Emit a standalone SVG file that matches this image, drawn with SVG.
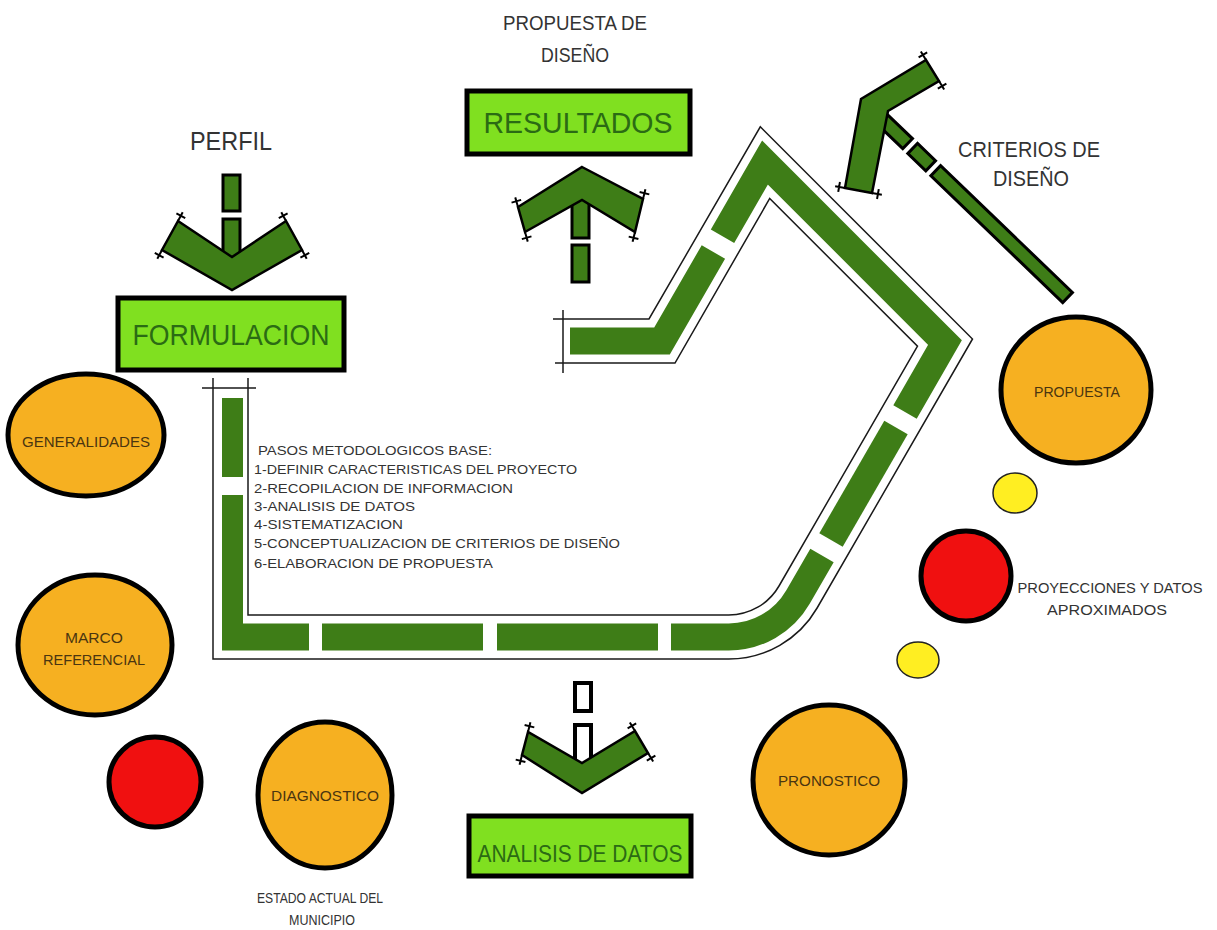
<svg xmlns="http://www.w3.org/2000/svg" xmlns:xlink="http://www.w3.org/1999/xlink" width="1217" height="930" viewBox="0 0 1217 930">
<style>
text{font-family:"Liberation Sans",Arial,sans-serif;}
.band{fill:none;stroke:#3e7d17;stroke-width:27;stroke-linecap:butt;stroke-linejoin:miter;}
.bandf{fill:#3e7d17;}
.rail{fill:none;stroke:#1a1a1a;stroke-width:1.5;}
.chev{fill:#3e7d17;stroke:#000;stroke-width:2.5;stroke-linejoin:miter;}
.bar{fill:#3e7d17;stroke:#000;stroke-width:3;}
.wbar{fill:#fff;stroke:#000;stroke-width:4;}
.box{fill:#80e020;stroke:#000;stroke-width:5;}
.boxt{fill:#2b6b14;text-anchor:middle;}
.lbl{fill:#333;text-anchor:middle;}
.step{fill:#333;font-size:13.5px;}
.org{fill:#f6b021;stroke:#000;stroke-width:5;}
.red{fill:#f01010;stroke:#000;stroke-width:5;}
.yel{fill:#ffee22;stroke:#222;stroke-width:1.5;}
.et{fill:#4a3510;font-size:15px;text-anchor:middle;}
.tk{fill:none;stroke:#000;stroke-width:2;}
</style>
<defs>
<path id="tk" class="tk" d="M0,0 V-10 M-5,-6 H5"/>
</defs>
<rect width="1217" height="930" fill="#fff"/>

<g id="connectors">
  <!-- main band rails -->
  <path class="rail" d="M553,319 H649 L760.3,126.8 L972.5,339 L817.1,608 A102,102 0 0 1 728.8,659 H213 V378"/>
  <path class="rail" d="M555,363 H675 L769.7,198.5 L917.5,346.2 L779,586 A58,58 0 0 1 728.8,615 H248 V378"/>
  <path class="rail" d="M563,310 V373 M202,388 H256"/>
  <!-- main band green pieces -->
  <path class="band" d="M570,341 H662 L713.4,252"/>
  <path class="band" d="M722.5,236.2 L765,162.6 L945,342.6 L905,412"/>
  <path class="band" d="M896,427.5 L831,540"/>
  <path class="band" d="M822,555.6 L798,597 A80,80 0 0 1 728.8,637 H671"/>
  <path class="band" d="M658,637 H497"/>
  <path class="band" d="M483,637 H322"/>
  <polygon class="bandf" points="222,495 243,495 243,623.5 309,623.5 309,650.5 222,650.5"/>
  <rect class="bandf" x="222" y="398" width="21" height="79"/>

  <!-- PERFIL arrow -->
  <rect class="bar" x="223" y="175" width="17" height="36"/>
  <rect class="bar" x="223" y="219" width="17" height="40"/>
  <polygon class="chev" points="178,221 162,250 232,290 302,250 286,221 232,257"/>
  <use xlink:href="#tk" href="#tk" transform="translate(178,221) rotate(28)"/>
  <use xlink:href="#tk" href="#tk" transform="translate(162,250) rotate(208)"/>
  <use xlink:href="#tk" href="#tk" transform="translate(286,221) rotate(-28)"/>
  <use xlink:href="#tk" href="#tk" transform="translate(302,250) rotate(152)"/>

  <!-- RESULTADOS arrow -->
  <rect class="bar" x="572" y="245" width="17" height="37"/>
  <rect class="bar" x="572" y="196" width="17" height="42"/>
  <polygon class="chev" points="582,167 643,199 635,232 582,200 525,232 518,207"/>
  <use xlink:href="#tk" href="#tk" transform="translate(518,207) rotate(-16)"/>
  <use xlink:href="#tk" href="#tk" transform="translate(525,232) rotate(164)"/>
  <use xlink:href="#tk" href="#tk" transform="translate(643,199) rotate(14)"/>
  <use xlink:href="#tk" href="#tk" transform="translate(635,232) rotate(194)"/>

  <!-- ANALISIS arrow -->
  <rect class="wbar" x="575" y="683" width="16" height="28"/>
  <rect class="wbar" x="575" y="725" width="16" height="40"/>
  <polygon class="chev" points="528,732 522,755 582,793 648,753 635,731 582,763"/>
  <use xlink:href="#tk" href="#tk" transform="translate(528,732) rotate(14)"/>
  <use xlink:href="#tk" href="#tk" transform="translate(522,755) rotate(194)"/>
  <use xlink:href="#tk" href="#tk" transform="translate(635,731) rotate(-31)"/>
  <use xlink:href="#tk" href="#tk" transform="translate(648,753) rotate(149)"/>

  <!-- CRITERIOS arrow -->
  <g transform="translate(935,170) rotate(43.9)">
    <rect class="bar" x="-76" y="-7" width="38" height="14"/>
    <rect class="bar" x="-31" y="-7" width="25" height="14"/>
    <rect class="bar" x="1" y="-7" width="183" height="14"/>
  </g>
  <polygon class="chev" points="845,188 861,99 926,60 939,81 888,111 872,193"/>
  <use xlink:href="#tk" href="#tk" transform="translate(926,60) rotate(-31)"/>
  <use xlink:href="#tk" href="#tk" transform="translate(939,81) rotate(149)"/>
  <use xlink:href="#tk" href="#tk" transform="translate(845,188) rotate(-80)"/>
  <use xlink:href="#tk" href="#tk" transform="translate(872,193) rotate(100)"/>
</g>

<g id="labels">
  <text class="lbl" x="231" y="150" font-size="26" textLength="82" lengthAdjust="spacingAndGlyphs">PERFIL</text>
  <text class="lbl" x="575" y="30" font-size="21" textLength="144" lengthAdjust="spacingAndGlyphs">PROPUESTA DE</text>
  <text class="lbl" x="575" y="62" font-size="21" textLength="68" lengthAdjust="spacingAndGlyphs">DISEÑO</text>
  <text class="lbl" x="1029" y="157" font-size="22" textLength="142" lengthAdjust="spacingAndGlyphs">CRITERIOS DE</text>
  <text class="lbl" x="1031" y="186" font-size="22" textLength="76" lengthAdjust="spacingAndGlyphs">DISEÑO</text>
  <text class="lbl" x="320" y="903" font-size="14.5" textLength="126" lengthAdjust="spacingAndGlyphs">ESTADO ACTUAL DEL</text>
  <text class="lbl" x="322" y="925" font-size="14.5" textLength="66" lengthAdjust="spacingAndGlyphs">MUNICIPIO</text>
  <text class="lbl" x="1110" y="593" font-size="14.5" textLength="185" lengthAdjust="spacingAndGlyphs">PROYECCIONES Y DATOS</text>
  <text class="lbl" x="1107" y="615" font-size="14.5" textLength="120" lengthAdjust="spacingAndGlyphs">APROXIMADOS</text>
</g>

<g id="steps">
  <text class="step" x="258" y="455" textLength="234" lengthAdjust="spacingAndGlyphs">PASOS METODOLOGICOS BASE:</text>
  <text class="step" x="254" y="474" textLength="323" lengthAdjust="spacingAndGlyphs">1-DEFINIR CARACTERISTICAS DEL PROYECTO</text>
  <text class="step" x="254" y="493" textLength="259" lengthAdjust="spacingAndGlyphs">2-RECOPILACION DE INFORMACION</text>
  <text class="step" x="254" y="511" textLength="161" lengthAdjust="spacingAndGlyphs">3-ANALISIS DE DATOS</text>
  <text class="step" x="254" y="529" textLength="149" lengthAdjust="spacingAndGlyphs">4-SISTEMATIZACION</text>
  <text class="step" x="254" y="548" textLength="366" lengthAdjust="spacingAndGlyphs">5-CONCEPTUALIZACION DE CRITERIOS DE DISEÑO</text>
  <text class="step" x="254" y="568" textLength="239" lengthAdjust="spacingAndGlyphs">6-ELABORACION DE PROPUESTA</text>
</g>

<g id="resultados">
  <rect class="box" x="467" y="91" width="223" height="63"/>
  <text class="boxt" x="578" y="133" font-size="30" textLength="189" lengthAdjust="spacingAndGlyphs">RESULTADOS</text>
</g>
<g id="formulacion">
  <rect class="box" x="118" y="298" width="226" height="72"/>
  <text class="boxt" x="231" y="345" font-size="29" textLength="197" lengthAdjust="spacingAndGlyphs">FORMULACION</text>
</g>
<g id="analisis">
  <rect class="box" x="469" y="816" width="222" height="60"/>
  <text class="boxt" x="580" y="862" font-size="24" textLength="205" lengthAdjust="spacingAndGlyphs">ANALISIS DE DATOS</text>
</g>

<g id="generalidades">
  <ellipse class="org" cx="86" cy="435" rx="78" ry="61"/>
  <text class="et" x="86" y="447" textLength="128" lengthAdjust="spacingAndGlyphs">GENERALIDADES</text>
</g>
<g id="marco">
  <ellipse class="org" cx="95" cy="645" rx="77" ry="70"/>
  <text class="et" x="94" y="643" textLength="58" lengthAdjust="spacingAndGlyphs">MARCO</text>
  <text class="et" x="94" y="665" textLength="102" lengthAdjust="spacingAndGlyphs">REFERENCIAL</text>
</g>
<g id="rojo1">
  <ellipse class="red" cx="155" cy="782" rx="46" ry="45"/>
</g>
<g id="diagnostico">
  <ellipse class="org" cx="325" cy="795" rx="67" ry="73"/>
  <text class="et" x="325" y="801" textLength="108" lengthAdjust="spacingAndGlyphs">DIAGNOSTICO</text>
</g>
<g id="pronostico">
  <ellipse class="org" cx="829" cy="780" rx="76" ry="75"/>
  <text class="et" x="829" y="786" textLength="102" lengthAdjust="spacingAndGlyphs">PRONOSTICO</text>
</g>
<g id="propuesta">
  <ellipse class="org" cx="1076" cy="390" rx="75" ry="73"/>
  <text class="et" x="1077" y="397" textLength="86" lengthAdjust="spacingAndGlyphs">PROPUESTA</text>
</g>
<g id="rojo2">
  <ellipse class="red" cx="966" cy="576" rx="45" ry="45"/>
</g>
<g id="amarillo1">
  <ellipse class="yel" cx="1015" cy="493" rx="22" ry="20"/>
</g>
<g id="amarillo2">
  <ellipse class="yel" cx="918" cy="660" rx="21" ry="18"/>
</g>
</svg>
